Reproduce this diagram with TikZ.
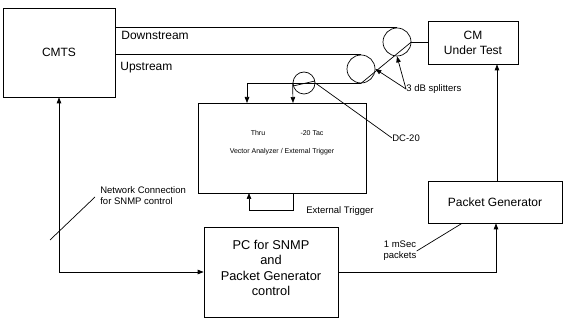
\documentclass[tikz,border=0pt]{standalone}
\usepackage{fontspec}
\setmainfont{Liberation Sans}
\usetikzlibrary{arrows.meta,calc}
\begin{document}
\begin{tikzpicture}[x=1pt,y=-1pt, line width=0.7pt,
 blk/.style={draw, inner sep=0pt, align=center},
 spl/.style={draw, circle, minimum size=28pt, inner sep=0pt},
 arr/.style={-{Triangle[length=6pt,width=4.5pt]}},
 darr/.style={{Triangle[length=6pt,width=4.5pt]}-{Triangle[length=6pt,width=4.5pt]}},
 lbl/.style={font=\fontsize{12}{15}\selectfont, inner sep=0pt, align=center},
 small/.style={font=\fontsize{9.5}{11}\selectfont, inner sep=0pt},
 tiny/.style={font=\fontsize{7}{8}\selectfont, inner sep=0pt}]
\useasboundingbox (0,0) rectangle (565,320);

% blocks
\node[blk, lbl, minimum width=112pt, minimum height=89pt] (cmts) at (59,52.5) {CMTS};
\node[blk, lbl, minimum width=90pt, minimum height=43pt] (cm) at (473,42.5) {CM\\Under Test};
\node[blk, lbl, minimum width=134pt, minimum height=42pt] (pg) at (495,202) {Packet Generator};
\node[blk, minimum width=134pt, minimum height=90pt] (pc) at (271,272) {};
\node[lbl, font=\fontsize{12.8}{15.5}\selectfont] (pctext) at (271,268) {PC for SNMP\\and\\Packet Generator\\control};
\node[blk, minimum width=168pt, minimum height=90pt] (va) at (282,148) {};
\node[tiny] (thru) at (258,133) {Thru};
\node[tiny] (tac) at (312,133) {-20 Tac};
\node[tiny] (vaet) at (282,152) {Vector Analyzer / External Trigger};

% splitters and coupler
\node[spl] (s1) at (397,42) {};
\node[spl] (s2) at (361,69) {};
\node[spl, minimum size=22pt] (dc) at (304,83) {};

% labels
\node[lbl, anchor=west] (ds) at (121,35) {Downstream};
\node[lbl, anchor=west] (us) at (120,68) {Upstream};
\node[small, anchor=west] (spll) at (406,89) {3 dB splitters};
\node[small, anchor=west] (dcl) at (392,138) {DC-20};
\node[small, anchor=west] (etl) at (306,211) {External Trigger};
\node[small, anchor=north west, align=left] (ncl) at (100,186) {Network Connection\\for SNMP control};
\node[small, align=center] (msl) at (400,251) {1 mSec\\packets};

% coordinates
\coordinate (thruin) at (247,103);
\coordinate (cplin) at (293,103);
\coordinate (trgout) at (293,193);
\coordinate (trgin) at (249,193);
\coordinate (sl1) at (50,240);
\coordinate (sl2) at (95,197);

% connectors
\draw (cmts.east |- s1.north) -- (s1.north);
\draw (cmts.east |- s2.north) -- (s2.north);
\draw (s1.east) -- (cm.west |- s1.east);
\draw (s2.south) -- (s1.east);
\draw[arr] (s2.south) -| (thruin);
\draw ($(dc.center)+(-11,3)$) -- ($(dc.center)+(11,-2)$);
\draw[arr] (dc.west) -- (cplin);
\draw (dc.east) -- (dcl.west);
\draw[arr] (spll.west) -- (s1.south);
\draw[arr] (spll.west) -- (s2.east);
\draw[arr] (trgout) -- ++(0,17) -| (trgin);
\draw[darr] (cmts.south) |- (pc.west);
\draw (sl1) -- (sl2);
\draw[arr] (pc.east) -| (pg.south -| 496,0);
\draw[arr] (pg.north -| 497,0) -- (cm.south -| 497,0);
\draw (msl.east) -- (pg.south -| 462,0);
\end{tikzpicture}
\end{document}
